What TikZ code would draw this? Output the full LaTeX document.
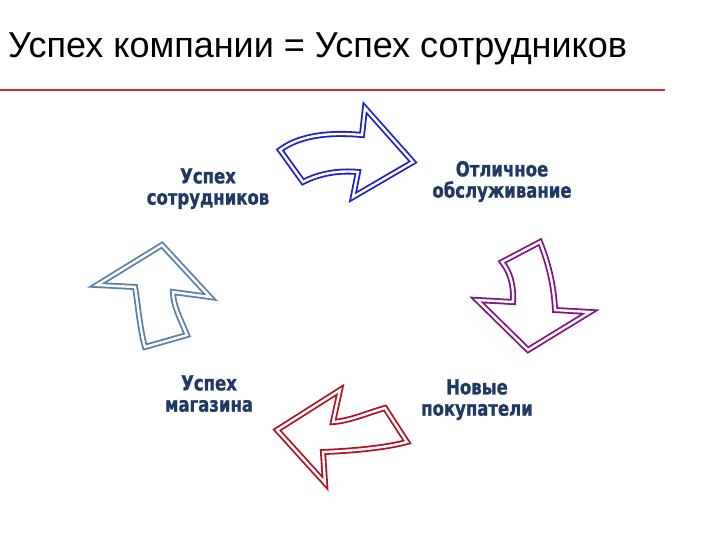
\documentclass[tikz,border=0pt]{standalone}
\usepackage{fontspec}
\setmainfont{Liberation Sans}
\newfontfamily\lblfont{DejaVu Sans Bold}[FakeBold=1.2]
\definecolor{bluec}{RGB}{32,32,200}
\definecolor{purplec}{RGB}{130,20,130}
\definecolor{redc}{RGB}{175,20,35}
\definecolor{steelc}{RGB}{90,128,170}
\definecolor{lblcol}{RGB}{31,56,100}
\definecolor{rulec}{RGB}{215,40,40}
\newcommand{\twolines}[2]{\scalebox{1}[1.25]{\begin{tabular}{@{}c@{}}#1\\[-3pt]#2\end{tabular}}}
\begin{document}
\begin{tikzpicture}[x=1pt,y=-1pt,
  arrowshape/.style={fill=white, line width=1.8pt, double=white, double distance=2.4pt, line join=miter},
  lbl/.style={font=\lblfont\fontsize{16.5}{20}\selectfont, text=lblcol, inner sep=0pt}]
\useasboundingbox (0,0) rectangle (720,540);
\node[anchor=base west, font=\fontsize{36}{40}\selectfont, inner sep=0pt] (title) at (8,58) {Успех компании = Успех сотрудников};
\coordinate (rl) at (0,90);
\coordinate (rr) at (665,90);
\draw[rulec, line width=1.3pt] (rl) -- (rr);
% blue arrow
\draw[arrowshape, draw=bluec] (280,150) .. controls (300,135) and (330,132) .. (362,135) -- (365,108) -- (413,162) -- (353,197) -- (358,172) .. controls (338,170) and (318,174) .. (303,182) -- cycle;
% purple arrow
\draw[arrowshape, draw=purplec] (502,262) -- (540,242) .. controls (548,262) and (554,285) .. (555,310) -- (590,312) -- (528,350) -- (477,300) -- (513,302) .. controls (514,285) and (510,272) .. (502,262) -- cycle;
% red arrow
\draw[arrowshape, draw=redc] (385,408) .. controls (370,412) and (350,421) .. (333,422) -- (340,390) -- (277,430) -- (325,483) -- (323,452) .. controls (350,451) and (385,448) .. (407,442) -- cycle;
% steel arrow
\draw[arrowshape, draw=steelc] (145,347) -- (187,335) .. controls (180,318) and (173,305) .. (173,292) -- (210,297) -- (162,245) -- (97,285) -- (135,287) .. controls (138,305) and (140,330) .. (145,347) -- cycle;
% labels
\node[lbl] (l1) at (208,189) {\twolines{Успех}{сотрудников}};
\node[lbl] (l2) at (502,182) {\twolines{Отличное}{обслуживание}};
\node[lbl] (l3) at (477,400) {\twolines{Новые}{покупатели}};
\node[lbl] (l4) at (209,396) {\twolines{Успех}{магазина}};
\end{tikzpicture}
\end{document}
